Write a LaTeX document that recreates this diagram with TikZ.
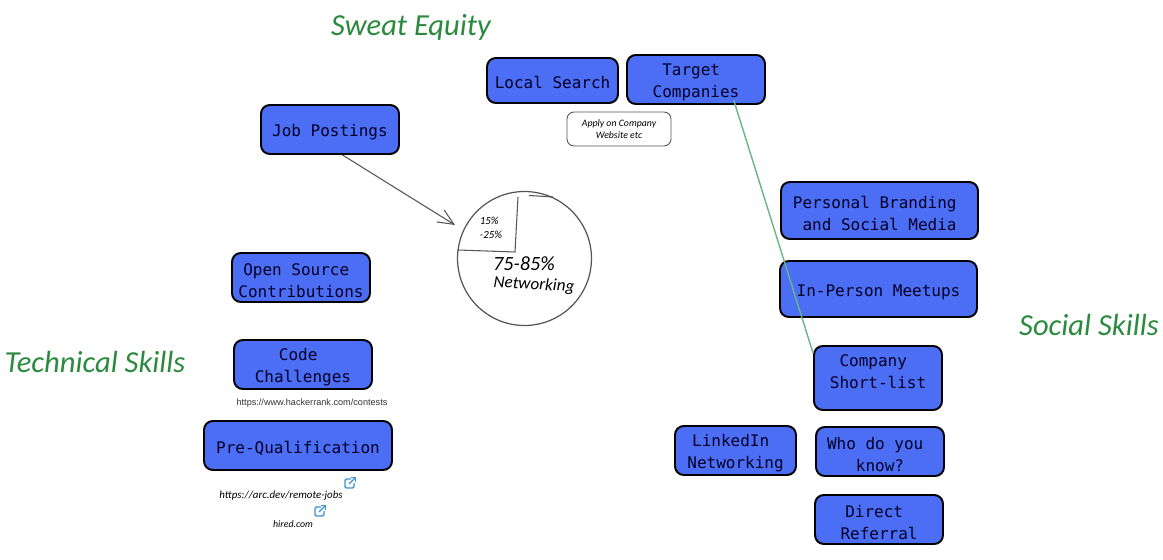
\documentclass[tikz,border=0pt]{standalone}
\usepackage{fontspec}
\setmonofont{DejaVu Sans Mono}
\setsansfont{Liberation Sans}
\newfontfamily\handfont{Carlito}
\usepackage{xcolor}
\usetikzlibrary{positioning,arrows.meta,calc}
\definecolor{boxblue}{HTML}{4C6EF5}
\definecolor{titlegreen}{HTML}{2B8A3E}
\definecolor{linkgreen}{HTML}{69B583}
\definecolor{iconblue}{HTML}{3F8FD8}
\definecolor{sketchgray}{HTML}{555555}
\newcommand{\halfpad}{\kern 0.6em}
\newcommand{\toppad}{\rule{0pt}{10pt}}
\tikzset{
    skillbox/.style={draw=black, line width=1.1pt, fill=boxblue, rounded corners=5pt, inner sep=0pt,
        font=\fontsize{9.1}{12.5}\selectfont\ttfamily, text=black!85!blue, align=center},
    title/.style={text=titlegreen, font=\fontsize{17.4}{19}\selectfont\handfont\itshape},
    hand/.style={font=\fontsize{9.7}{12}\selectfont\handfont\itshape, text=black, align=left, inner sep=0pt},
    tiny hand/.style={font=\fontsize{5.6}{7.2}\selectfont\handfont\itshape, text=black, align=center, inner sep=0pt},
    sketch/.style={draw=sketchgray, line width=0.6pt}
}
\begin{document}
\begin{tikzpicture}[x=0.02cm, y=-0.02cm]
    \useasboundingbox (0,0) rectangle (1163,560);

    % Titles
    \node[title] (sweat) at (411,27) {Sweat Equity};
    \node[title] (social) at (1089,325) {Social Skills};
    \node[title] (technical) at (95,362) {Technical Skills};

    % Sweat equity
    \node[skillbox, minimum width=2.62cm, minimum height=0.9cm] (local) at (552.5,80.5) {\rule{0pt}{9.2pt}Local Search};
    \node[skillbox, minimum width=2.76cm, minimum height=0.98cm] (target) at (696,79.5) {\toppad Target\halfpad\\Companies};
    \node[draw=sketchgray, line width=0.5pt, rounded corners=4pt, minimum width=2.08cm, minimum height=0.68cm, tiny hand] (apply) at (619,129) {Apply on Company\\Website etc};
    \node[skillbox, minimum width=2.76cm, minimum height=0.98cm] (job) at (330,129.5) {\toppad Job Postings};

    % Technical skills
    \node[skillbox, minimum width=2.76cm, minimum height=0.98cm] (opensource) at (301,277.5) {\toppad Open Source\halfpad\\Contributions};
    \node[skillbox, minimum width=2.76cm, minimum height=0.98cm] (code) at (303,364.5) {\toppad Code\halfpad\\Challenges};
    \node[font=\fontsize{5.2}{6}\selectfont\sffamily, text=black!80, inner sep=0pt] (hackerrank) at (312,403) {https://www.hackerrank.com/contests};
    \node[skillbox, minimum width=3.76cm, minimum height=0.98cm] (prequal) at (298,445.5) {\toppad Pre-Qualification};
    \node[tiny hand, font=\fontsize{6.2}{7.2}\selectfont\handfont\itshape] (arc) at (281,496) {https://arc.dev/remote-jobs};
    \node[tiny hand] (hired) at (293,524) {hired.com};

    % External link icons
    \foreach \ix/\iy in {350/483, 320/511} {
        \draw[iconblue, line width=0.75pt, rounded corners=0.8pt] (\ix+1,\iy-4) -- (\ix-5,\iy-4) -- (\ix-5,\iy+5) -- (\ix+4,\iy+5) -- (\ix+4,\iy);
        \draw[iconblue, line width=0.75pt] (\ix-1,\iy+1) -- (\ix+5,\iy-5);
        \draw[iconblue, line width=0.75pt] (\ix+1,\iy-5.5) -- (\ix+5.5,\iy-5.5) -- (\ix+5.5,\iy-1);
    }

    % Social skills
    \node[skillbox, minimum width=3.94cm, minimum height=1.14cm] (branding) at (879.5,210.5) {\toppad Personal Branding\halfpad\\and Social Media};
    \node[skillbox, minimum width=3.94cm, minimum height=1.12cm] (meetups) at (878.5,289) {\toppad In-Person Meetups};
    \node[skillbox, minimum width=2.56cm, minimum height=1.28cm] (shortlist) at (878,378) {Company\halfpad\\Short-list\rule[-7.7pt]{0pt}{1pt}};
    \node[skillbox, minimum width=2.42cm, minimum height=0.98cm] (linkedin) at (735.5,450.5) {\toppad LinkedIn\halfpad\\Networking};
    \node[skillbox, minimum width=2.56cm, minimum height=0.98cm] (who) at (880,451.5) {\toppad Who do you\halfpad\\know?};
    \node[skillbox, minimum width=2.56cm, minimum height=0.98cm] (referral) at (879,519.5) {\toppad Direct\halfpad\\Referral};

    % Pie
    \node[circle, draw=sketchgray, line width=0.7pt, minimum size=2.68cm, inner sep=0pt] (pie) at (524.5,258.5) {};
    \coordinate (piecentre) at (515,252);
    \coordinate (pietop) at (518,197);
    \coordinate (pieleft) at (458,250);
    \coordinate (pietickstart) at (529,195.5);
    \coordinate (pietick) at (553,197);
    \coordinate (jobtip) at (455,225);
    \draw[sketch] (pietop) -- (piecentre) -- (pieleft);
    \draw[sketch] (pietickstart) -- (pietick);
    \node[tiny hand, align=left, font=\fontsize{6.2}{7.8}\selectfont\handfont\itshape] (share) at (491,228) {15\%\\-25\%};
    \node[hand, font=\fontsize{11.5}{13}\selectfont\handfont\itshape] (majority) at (524,264) {75-85\%};
    \node[hand, rotate=-3] (networking) at (534,285) {Networking};

    % Connectors
    \draw[sketch, -{Straight Barb[length=9pt, width=8pt]}] (job.-64) -- (jobtip);
    \draw[linkgreen, line width=0.8pt, shorten <=-2.8pt] (target.-33) -- (shortlist.159.4);
\end{tikzpicture}
\end{document}
